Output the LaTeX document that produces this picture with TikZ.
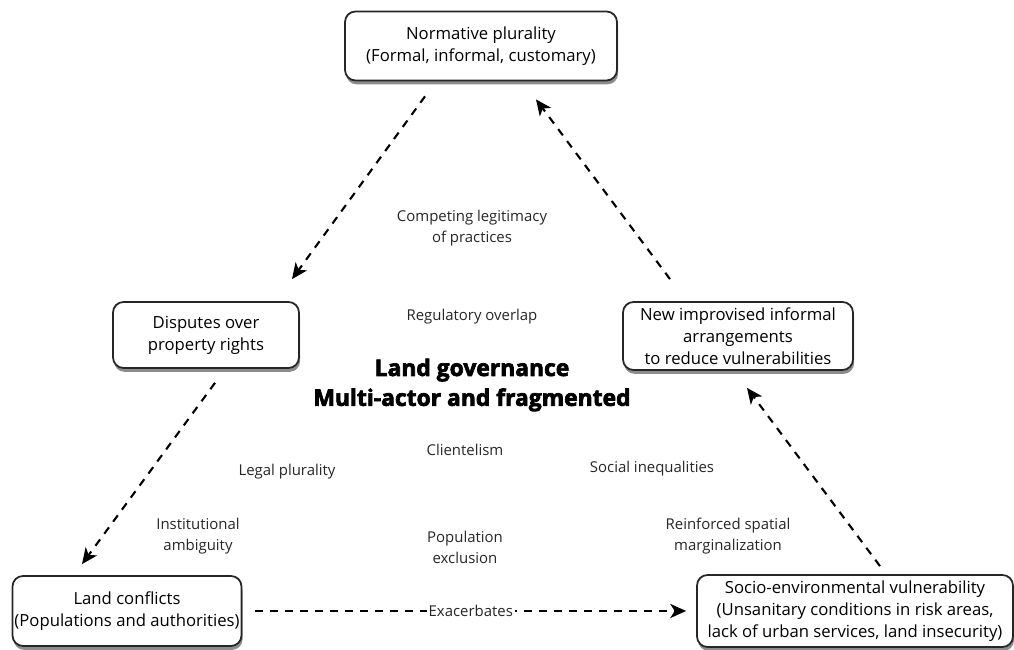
\documentclass[tikz,border=0pt]{standalone}
\usepackage{fontspec}
\setmainfont{Open Sans}
\newfontfamily\titulofonte[BoldFeatures={FakeBold=3}]{Open Sans}
\usetikzlibrary{arrows.meta,shadows}

\tikzset{
  caixa/.style={draw=black!85, line width=1pt, rounded corners=6pt, fill=white, align=center,
    font=\fontsize{9.5}{12.5}\selectfont, inner sep=1pt,
    drop shadow={shadow xshift=0.6pt, shadow yshift=-2.2pt, opacity=0.6, fill=black!75}},
  seta/.style={line width=1.2pt, dash pattern=on 4.5pt off 4pt, -{Stealth[length=9pt,width=8pt,inset=2.5pt]}},
  rotulo/.style={align=center, font=\fontsize{8.5}{12}\selectfont, text=black!85}
}

\begin{document}
\begin{tikzpicture}
\useasboundingbox (0,0) rectangle (20.28,13); %Tamanho da figura
	%Caixas
\node[caixa, minimum width=5.44cm, minimum height=1.38cm] (topo) at (9.62,12.08) {Normative plurality\\(Formal, informal, customary)}; %Topo
\node[caixa, minimum width=3.72cm, minimum height=1.32cm] (disputa) at (4.12,6.30) {Disputes over\\property rights}; %Esquerda
\node[caixa, minimum width=4.60cm, minimum height=1.36cm] (arranjo) at (14.76,6.28) {New improvised informal\\arrangements\\to reduce vulnerabilities}; %Direita
\node[caixa, minimum width=4.58cm, minimum height=1.40cm] (conflito) at (2.54,0.78) {Land conflicts\\(Populations and authorities)}; %Canto esquerdo
\node[caixa, minimum width=6.32cm, minimum height=1.44cm] (vulner) at (17.10,0.78) {Socio-environmental vulnerability\\(Unsanitary conditions in risk areas,\\lack of urban services, land insecurity)}; %Canto direito
	%Centro
\node[align=center, font=\fontsize{13}{17}\selectfont\titulofonte\bfseries] (titulo) at (9.44,5.30) {Land governance\\Multi-actor and fragmented}; %Titulo
\node[rotulo] (legit) at (9.44,8.44) {Competing legitimacy\\of practices};
\node[rotulo] (sobrep) at (9.44,6.66) {Regulatory overlap};
\node[rotulo] (client) at (9.30,4.00) {Clientelism};
\node[rotulo] (legal) at (5.74,3.56) {Legal plurality};
\node[rotulo] (desig) at (13.04,3.62) {Social inequalities};
\node[rotulo] (ambig) at (3.96,2.28) {Institutional\\ambiguity};
\node[rotulo] (exclus) at (9.30,2.06) {Population\\exclusion};
\node[rotulo] (margin) at (14.56,2.28) {Reinforced spatial\\marginalization};
	%Setas
\draw[seta] ([shift={(-1.12,-0.30)}]topo.south) -- ([shift={(1.72,0.44)}]disputa.north); %Topo -> disputas
\draw[seta] ([shift={(0.18,-0.28)}]disputa.south) -- ([shift={(-0.90,0.22)}]conflito.north); %Disputas -> conflitos
\draw[seta] ([shift={(0.26,0)}]conflito.east) -- node[rotulo, fill=white, inner sep=1pt]{Exacerbates} ([shift={(-0.20,0)}]vulner.west); %Conflitos -> vulnerabilidade
\draw[seta] ([shift={(0.50,0.16)}]vulner.north) -- ([shift={(0.18,-0.34)}]arranjo.south); %Vulnerabilidade -> arranjos
\draw[seta] ([shift={(-1.36,0.44)}]arranjo.north) -- ([shift={(1.10,-0.36)}]topo.south); %Arranjos -> topo
\end{tikzpicture}
\end{document}
